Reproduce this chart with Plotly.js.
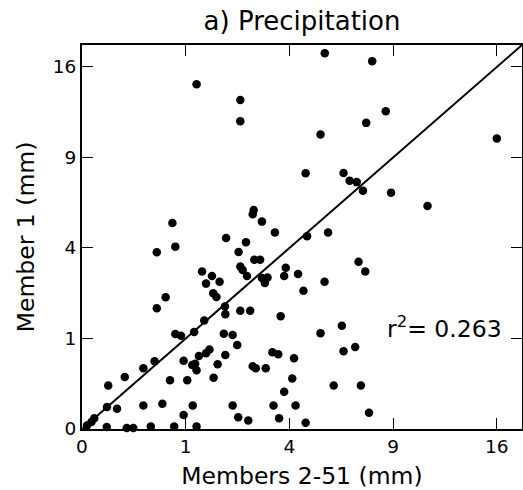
<!DOCTYPE html>
<html>
<head>
<meta charset="utf-8">
<script src="https://cdn.plot.ly/plotly-3.0.1.min.js"></script>
<style>html,body{margin:0;padding:0;background:#fff;}#chart{width:523px;height:490px;}</style>
</head>
<body>
<div id="chart"></div>
<script>
// Tick values (mm) on the square-root scaled axes
const tickValues = [0, 1, 4, 9, 16];
const tickLabels = ['0', '1', '4', '9', '16'];

// Members 2-51 (mm) -- x values
const membersRest = [
  1.22, 5.48, 7.83, 2.33, 2.33, 5.29, 7.51, 8.58, 16.0, 4.65,
  6.36, 6.66, 7.02, 7.34, 8.88, 11.10, 2.74, 2.71, 3.01, 0.76,
  3.46, 4.71, 5.63, 1.93, 2.50, 0.81, 0.52, 2.28, 2.76, 2.95,
  7.11, 2.33, 2.40, 2.53, 7.46, 1.34, 1.57, 1.76, 1.43, 3.86,
  3.80, 4.34, 3.01, 3.20, 3.11, 5.47, 4.56, 1.60, 1.68, 0.65,
  0.52, 1.90, 1.91, 2.33, 2.63, 3.67, 1.39, 6.28, 0.81, 0.91,
  1.17, 1.87, 2.11, 2.24, 5.29, 6.36, 6.94, 1.51, 1.43, 1.27,
  1.91, 3.37, 3.58, 4.18, 0.96, 0.49, 1.19, 1.13, 1.22, 1.71,
  2.71, 2.81, 3.14, 0.35, 0.17, 1.61, 0.72, 1.03, 4.11, 0.064,
  5.89, 7.23, 3.80, 0.058, 0.114, 0.35, 0.60, 1.14, 2.11, 3.41,
  4.24, 7.66, 0.96, 0.014, 2.27, 2.57, 3.61, 4.65, 0.0083, 0.0023,
  0.057, 0.186, 0.245, 0.44, 0.79, 1.22
];

// Member 1 (mm) -- y values
const member1 = [
  14.51, 17.23, 16.52, 13.21, 11.57, 10.58, 11.44, 12.32, 10.30, 7.98,
  8.00, 7.53, 7.44, 6.93, 6.82, 6.07, 5.85, 5.63, 5.25, 5.18,
  4.71, 4.54, 4.71, 4.45, 4.26, 4.06, 3.81, 3.82, 3.50, 3.50,
  3.41, 3.22, 3.09, 2.86, 3.03, 3.03, 2.86, 2.65, 2.58, 3.17,
  2.86, 2.93, 2.78, 2.80, 2.60, 2.65, 2.33, 2.25, 2.13, 2.12,
  1.78, 1.83, 1.61, 1.71, 1.71, 1.55, 1.44, 1.30, 1.10, 1.06,
  1.15, 1.11, 1.08, 0.86, 1.12, 0.74, 0.82, 0.77, 0.70, 0.65,
  0.67, 0.72, 0.68, 0.61, 0.57, 0.56, 0.52, 0.50, 0.42, 0.51,
  0.48, 0.45, 0.45, 0.45, 0.33, 0.32, 0.29, 0.29, 0.31, 0.23,
  0.23, 0.23, 0.17, 0.059, 0.050, 0.068, 0.078, 0.068, 0.068, 0.068,
  0.068, 0.032, 0.024, 0.014, 0.017, 0.0089, 0.014, 0.0047, 0.0060, 0.0015,
  0.0005, 0.0001, 0.0001, 0.0008, 0.0008, 0.0008
];

// 1:1 reference line endpoints (mm)
const oneToOne = [0, 18];
const r2Label = 'r<sup>2</sup>= 0.263';
const titleText = 'a) Precipitation';
const xTitle = 'Members 2-51 (mm)';
const yTitle = 'Member 1 (mm)';

const sq = v => Math.sqrt(v);
const axisMax = Math.sqrt(oneToOne[1]);

const traces = [
  {
    x: oneToOne.map(sq), y: oneToOne.map(sq),
    mode: 'lines', type: 'scatter',
    line: {color: '#000', width: 2},
    hoverinfo: 'skip', showlegend: false
  },
  {
    x: membersRest.map(sq), y: member1.map(sq),
    mode: 'markers', type: 'scatter',
    marker: {color: '#000', size: 8.5},
    cliponaxis: false, showlegend: false
  }
];

const axisCommon = {
  range: [0, axisMax],
  tickvals: tickValues.map(sq),
  ticktext: tickLabels,
  ticks: 'inside', ticklen: 11, tickwidth: 1, tickcolor: '#000',
  showline: true, linewidth: 2, linecolor: '#000', mirror: 'ticks',
  showgrid: false, zeroline: false,
  tickfont: {family: 'DejaVu Sans', size: 18.5, color: '#000'}
};

const layout = {
  width: 523, height: 490,
  margin: {l: 82, r: 1, t: 45, b: 61},
  paper_bgcolor: '#fff', plot_bgcolor: '#fff',
  font: {family: 'DejaVu Sans', color: '#000'},
  title: {text: titleText, font: {family: 'DejaVu Sans', size: 26, color: '#000'},
          x: 0.5775, xanchor: 'center', y: 0.958, yanchor: 'middle'},
  xaxis: Object.assign({}, axisCommon, {
    title: {text: xTitle, font: {family: 'DejaVu Sans', size: 23.5, color: '#000'}, standoff: 12}
  }),
  yaxis: Object.assign({}, axisCommon, {
    title: {text: yTitle, font: {family: 'DejaVu Sans', size: 23.5, color: '#000'}, standoff: 12}
  }),
  annotations: [{
    text: r2Label, xref: 'paper', yref: 'paper',
    x: 0.688, y: 0.264, xanchor: 'left', yanchor: 'middle',
    showarrow: false, font: {family: 'DejaVu Sans', size: 23.5, color: '#000'}
  }]
};

Plotly.newPlot('chart', traces, layout, {displayModeBar: false, staticPlot: true});
</script>
</body>
</html>
